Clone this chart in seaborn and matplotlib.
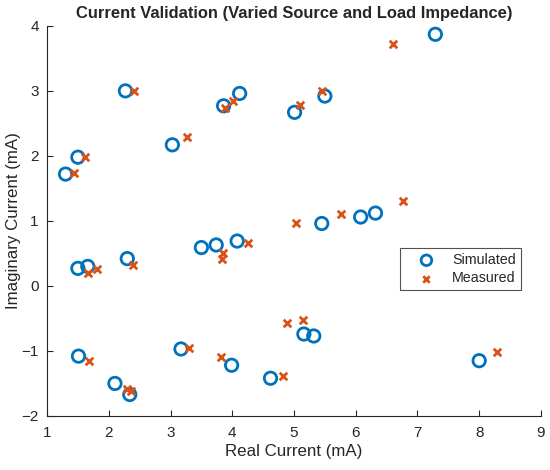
import pandas as pd
import matplotlib
matplotlib.use("Agg")
import matplotlib.pyplot as plt
import seaborn as sns

# ======================
# data (mA)

sim_real = [1.30, 1.50, 2.27, 3.03, 3.86, 4.12, 5.01, 5.50, 7.29,
            1.50, 1.66, 2.30, 3.50, 3.74, 4.08, 5.45, 6.08, 6.32,
            1.51, 2.10, 2.34, 3.17, 3.99, 4.62, 5.16, 5.32, 8.00]
sim_imag = [1.72, 1.98, 3.00, 2.17, 2.77, 2.96, 2.67, 2.92, 3.87,
            0.27, 0.30, 0.42, 0.59, 0.63, 0.69, 0.96, 1.06, 1.12,
            -1.08, -1.50, -1.67, -0.97, -1.22, -1.42, -0.74, -0.77, -1.15]

meas_real = [1.43, 1.62, 2.41, 3.26, 3.89, 4.02, 5.10, 5.46, 6.60,
             1.66, 1.81, 2.40, 3.85, 3.84, 4.25, 5.03, 5.76, 6.76,
             1.68, 2.29, 2.36, 3.30, 3.81, 4.82, 4.88, 5.14, 8.29]
meas_imag = [1.74, 1.98, 3.00, 2.29, 2.73, 2.85, 2.79, 3.00, 3.72,
             0.20, 0.26, 0.32, 0.50, 0.42, 0.66, 0.97, 1.10, 1.30,
             -1.15, -1.58, -1.62, -0.95, -1.09, -1.38, -0.57, -0.53, -1.01]

x_ticks = [1, 2, 3, 4, 5, 6, 7, 8, 9]
y_ticks = [-2, -1, 0, 1, 2, 3, 4]

# ======================

sns.set_style("ticks")
plt.rcParams['font.family'] = ['Liberation Sans', 'DejaVu Sans']
plt.rcParams['xtick.direction'] = 'in'
plt.rcParams['ytick.direction'] = 'in'

blue = '#0072BD'
orange = '#D95319'
dark = '#262626'

fig = plt.figure(figsize=(5.5, 4.7), dpi=100)
ax = fig.add_axes([0.0855, 0.115, 0.898, 0.83])

sim = pd.DataFrame({'real': sim_real, 'imag': sim_imag})
meas = pd.DataFrame({'real': meas_real, 'imag': meas_imag})

sns.scatterplot(data=sim, x='real', y='imag', ax=ax, marker='o', s=80,
                facecolor='none', edgecolor=blue, linewidth=2,
                label='Simulated')
sns.scatterplot(data=meas, x='real', y='imag', ax=ax, marker='x', s=30,
                color=orange, linewidth=2, label='Measured')

ax.set_xlim(1, 9)
ax.set_ylim(-2, 4)
ax.set_xticks(x_ticks)
ax.set_yticks(y_ticks)
ax.tick_params(labelsize=11, length=4, width=0.8, colors=dark)
ax.tick_params(axis='x', pad=7)
ax.tick_params(axis='y', pad=6)
for side in ['left', 'bottom']:
    ax.spines[side].set_color(dark)
    ax.spines[side].set_linewidth(0.8)
sns.despine(ax=ax)

ax.set_xlabel('Real Current (mA)', fontsize=12.2, labelpad=3)
ax.set_ylabel('Imaginary Current (mA)', fontsize=12.2, labelpad=0)
ax.set_title('Current Validation (Varied Source and Load Impedance)',
             fontsize=11.9, fontweight='bold')

leg = ax.legend(loc='upper left', bbox_to_anchor=(0.7146, 0.4305),
                borderaxespad=0, fontsize=10.3, frameon=True, fancybox=False,
                edgecolor=dark, handlelength=3.0, handletextpad=0.3,
                borderpad=0.35, labelspacing=0.3, markerscale=0.85)
leg.get_frame().set_linewidth(0.8)

plt.savefig('out.png', dpi=100)
plt.close()
